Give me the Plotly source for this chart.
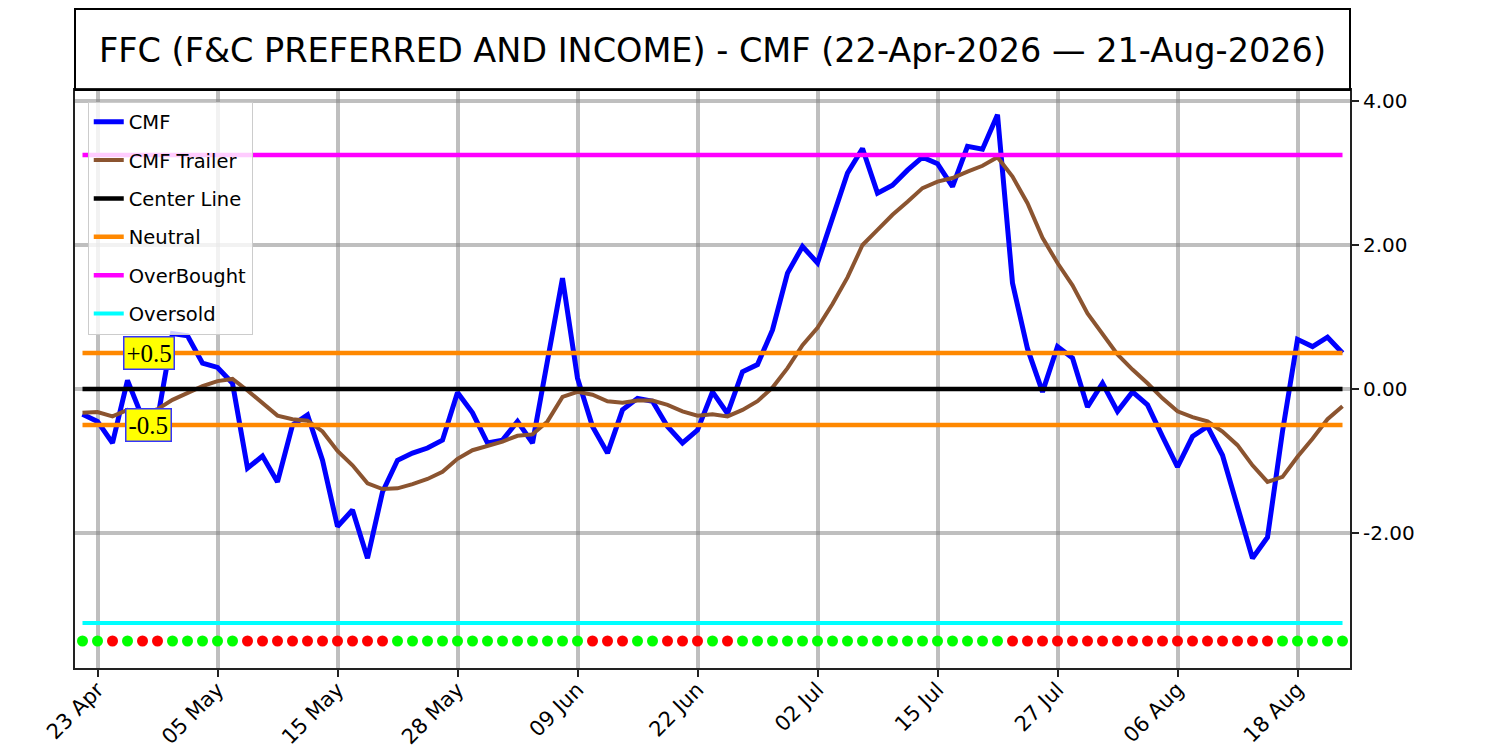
"""CMF chart for FFC (F&C Preferred and Income), 22-Apr-2026 .. 21-Aug-2026."""
import pandas as pd
import plotly.graph_objects as go

# trading days (NYSE calendar, holidays skipped)
HOLIDAYS = ["2026-05-25", "2026-06-19", "2026-07-03"]
dates = pd.bdate_range("2026-04-22", "2026-08-21", freq="C", holidays=HOLIDAYS)
days = [d.strftime("%Y-%m-%d") for d in dates]

cmf = [
    -0.35, -0.45, -0.75, 0.12, -0.40, -0.42, 0.77, 0.74, 0.36, 0.30,
    0.08, -1.10, -0.93, -1.29, -0.50, -0.36, -0.99, -1.91, -1.68, -2.35,
    -1.43, -0.99, -0.89, -0.82, -0.71, -0.05, -0.33, -0.75, -0.71, -0.45,
    -0.75, 0.40, 1.54, 0.15, -0.52, -0.89, -0.29, -0.13, -0.17, -0.52,
    -0.75, -0.57, -0.04, -0.34, 0.24, 0.34, 0.82, 1.61, 1.98, 1.75,
    2.39, 3.00, 3.34, 2.72, 2.83, 3.04, 3.22, 3.13, 2.81, 3.37,
    3.33, 3.81, 1.47, 0.56, -0.04, 0.59, 0.43, -0.25, 0.08, -0.31,
    -0.04, -0.22, -0.66, -1.08, -0.66, -0.52, -0.92, -1.63, -2.35, -2.06,
    -0.59, 0.69, 0.59, 0.72, 0.50,
]
cmf_trailer = [
    -0.33, -0.32, -0.38, -0.29, -0.35, -0.28, -0.15, -0.05, 0.04, 0.11,
    0.14, -0.02, -0.20, -0.37, -0.42, -0.44, -0.59, -0.86, -1.06, -1.31,
    -1.39, -1.38, -1.32, -1.25, -1.15, -0.97, -0.85, -0.79, -0.73, -0.65,
    -0.63, -0.45, -0.11, -0.04, -0.08, -0.17, -0.19, -0.16, -0.16, -0.22,
    -0.31, -0.37, -0.35, -0.38, -0.29, -0.17, 0.02, 0.29, 0.61, 0.85,
    1.18, 1.55, 2.00, 2.21, 2.42, 2.60, 2.79, 2.88, 2.93, 3.02,
    3.10, 3.22, 2.95, 2.58, 2.10, 1.75, 1.44, 1.05, 0.77, 0.48,
    0.27, 0.08, -0.13, -0.31, -0.39, -0.45, -0.59, -0.78, -1.06, -1.29,
    -1.22, -0.94, -0.69, -0.42, -0.24,
]
# G = bullish dot, R = bearish dot
signals = (
    "GGRGRRGGGGG" "RRRRRRRRRR" "GGGGGGGGGGGGG" "RRR" "GG" "RRR" "G" "R"
    "GGGGGGGGGGGGGGGGGG" "RRRRRRRRRRRRRRRRRR" "GGGGG"
)

CENTER = 0.0
NEUTRAL = 0.5
OVERBOUGHT = 3.25
OVERSOLD = -3.25
SIGNAL_LEVEL = -3.5

tick_days = ["2026-04-23", "2026-05-05", "2026-05-15", "2026-05-28", "2026-06-09",
             "2026-06-22", "2026-07-02", "2026-07-15", "2026-07-27", "2026-08-06",
             "2026-08-18"]
tick_text = [pd.Timestamp(d).strftime("%d %b") for d in tick_days]
y_ticks = [-2, 0, 2, 4]
y_tick_text = [f"{v:.2f}" for v in y_ticks]  # plain hyphen, not unicode minus

ends = [days[0], days[-1]]


def hline(y, name, color, width, show=True):
    return go.Scatter(x=ends, y=[y, y], mode="lines", name=name,
                      line=dict(color=color, width=width),
                      showlegend=show, legendgroup=name, hoverinfo="skip")


fig = go.Figure()
fig.add_trace(go.Scatter(x=days, y=cmf, mode="lines", name="CMF",
                         line=dict(color="#0000ff", width=5)))
fig.add_trace(go.Scatter(x=days, y=cmf_trailer, mode="lines", name="CMF Trailer",
                         line=dict(color="#8b5430", width=4)))
fig.add_trace(hline(CENTER, "Center Line", "#000000", 4.5))
fig.add_trace(hline(NEUTRAL, "Neutral", "#ff8800", 4.5))
fig.add_trace(hline(-NEUTRAL, "Neutral", "#ff8800", 4.5, show=False))
fig.add_trace(hline(OVERBOUGHT, "OverBought", "#ff00ff", 4.5))
fig.add_trace(hline(OVERSOLD, "Oversold", "#00ffff", 4))
fig.add_trace(go.Scatter(
    x=days, y=[SIGNAL_LEVEL] * len(days), mode="markers", showlegend=False,
    marker=dict(size=11, color=["#00ff00" if s == "G" else "#ff0000" for s in signals]),
))

label_box = dict(showarrow=False, font=dict(family="Liberation Serif", size=25, color="black"),
                 bgcolor="#ffff00", bordercolor="#3333ff", borderwidth=1.5, borderpad=2,
                 xref="x", yref="y")
fig.add_annotation(x=4.4, y=NEUTRAL, text="+0.5", **label_box)
fig.add_annotation(x=4.4, y=-NEUTRAL, text="-0.5", **label_box)

# framed title box above the plot area
fig.add_shape(type="rect", xref="paper", yref="paper", x0=0, x1=1, y0=1, y1=1.14,
              line=dict(color="black", width=2))

grid = "rgba(128,128,128,0.5)"
fig.update_layout(
    width=1484, height=742,
    margin=dict(l=67, r=142, t=82, b=82),
    paper_bgcolor="white", plot_bgcolor="white",
    font=dict(family="DejaVu Sans", color="black"),
    title=dict(text="FFC (F&C PREFERRED AND INCOME) - CMF (22-Apr-2026 — 21-Aug-2026)",
               x=0.5, xref="paper", y=1 - 42 / 742, yanchor="middle",
               font=dict(size=33.5, color="black")),
    legend=dict(x=0.01, y=0.98, xanchor="left", yanchor="top", itemwidth=30,
                bgcolor="rgba(255,255,255,0.8)", bordercolor="#cccccc", borderwidth=1,
                font=dict(size=19.5)),
    xaxis=dict(type="category", range=[-0.5, len(days) - 0.5], automargin=False,
               tickmode="array", tickvals=tick_days, ticktext=tick_text,
               tickangle=-45, tickfont=dict(size=21), ticklabelstandoff=-8,
               ticks="outside", ticklen=7, tickwidth=2, tickcolor="#222",
               showgrid=True, gridcolor=grid, gridwidth=4,
               showline=True, linecolor="#222", linewidth=2, mirror=True, zeroline=False),
    yaxis=dict(side="right", range=[-3.875, 4.153], automargin=False,
               tickmode="array", tickvals=y_ticks, ticktext=y_tick_text,
               tickfont=dict(size=20),
               ticks="outside", ticklen=7, tickwidth=2, tickcolor="#222",
               showgrid=True, gridcolor=grid, gridwidth=4,
               showline=True, linecolor="#222", linewidth=2, mirror=True, zeroline=False),
)

fig.write_html("out.html")
